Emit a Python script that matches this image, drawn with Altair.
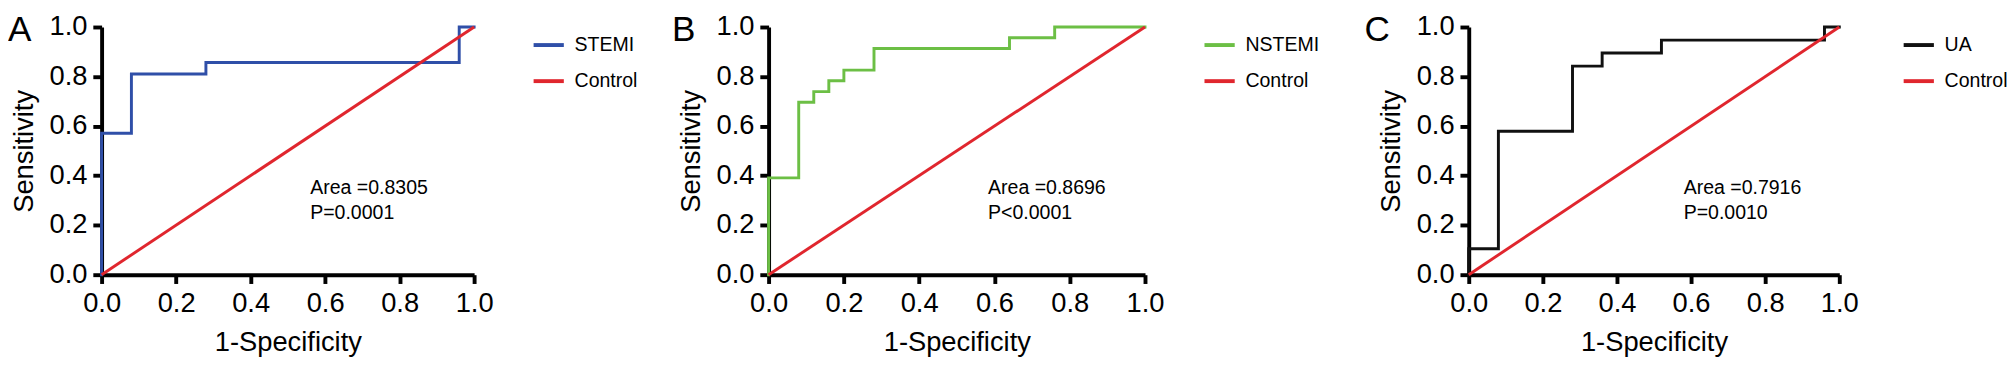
import altair as alt
import pandas as pd

FONT = "Liberation Sans"
RED = "#e0262e"

# ---- data ----
tick_values = [0.0, 0.2, 0.4, 0.6, 0.8, 1.0]

control_fpr = [0.0, 1.0]
control_tpr = [0.0, 1.0]

stemi_fpr = [0.0, 0.0, 0.08, 0.08, 0.28, 0.28, 0.96, 0.96, 1.0]
stemi_tpr = [0.0, 0.571, 0.571, 0.810, 0.810, 0.857, 0.857, 1.0, 1.0]

nstemi_fpr = [0.0, 0.0, 0.08, 0.08, 0.12, 0.12, 0.16, 0.16, 0.20, 0.20,
              0.28, 0.28, 0.64, 0.64, 0.76, 0.76, 1.0]
nstemi_tpr = [0.0, 0.391, 0.391, 0.696, 0.696, 0.739, 0.739, 0.783, 0.783, 0.826,
              0.826, 0.913, 0.913, 0.957, 0.957, 1.0, 1.0]

ua_fpr = [0.0, 0.0, 0.08, 0.08, 0.28, 0.28, 0.36, 0.36, 0.52, 0.52, 0.96, 0.96, 1.0]
ua_tpr = [0.0, 0.105, 0.105, 0.579, 0.579, 0.842, 0.842, 0.895, 0.895, 0.947, 0.947, 1.0, 1.0]

letters = ["A", "B", "C"]
series_names = ["STEMI", "NSTEMI", "UA"]
series_colors = ["#2f4fa8", "#6cbf45", "#111111"]
areas = ["Area =0.8305", "Area =0.8696", "Area =0.7916"]
pvalues = ["P=0.0001", "P<0.0001", "P=0.0010"]
note_x = [0.56, 0.583, 0.58]
note_y = [0.325, 0.325, 0.325]

# ---- layout (pixels) ----
plot_w = [382, 386, 380]
plot_h = 254
letter_dx = [-96, -99, -107]
legend_gap = [59, 59, 64]
legend_pad = [0, 11, 0]


def panel(i, fpr, tpr):
    name = series_names[i]
    curve = pd.DataFrame({"fpr": fpr, "tpr": tpr, "series": name,
                          "order": list(range(len(fpr)))})
    ctrl = pd.DataFrame({"fpr": control_fpr, "tpr": control_tpr, "series": "Control",
                         "order": list(range(len(control_fpr)))})
    w = plot_w[i]
    pad = legend_pad[i]
    color = alt.Color(
        "series:N",
        scale=alt.Scale(domain=[name, "Control"], range=[series_colors[i], RED]),
        legend=alt.Legend(
            title=None, orient="none",
            legendX=w + legend_gap[i] - pad, legendY=1 - pad, padding=pad,
            symbolType="stroke", symbolSize=961, symbolStrokeWidth=4,
            labelFontSize=20, labelFont=FONT, labelColor="black",
            labelOffset=9, rowPadding=9,
        ),
    )
    x = alt.X("fpr:Q", scale=alt.Scale(domain=[0, 1], nice=False, zero=False),
              axis=alt.Axis(values=tick_values, format=".1f", title="1-Specificity"))
    y = alt.Y("tpr:Q", scale=alt.Scale(domain=[0, 1], nice=False, zero=False),
              axis=alt.Axis(values=tick_values, format=".1f", title="Sensitivity"))

    base_line = alt.Chart(curve).mark_line(strokeWidth=3, strokeCap="square").encode(
        x=x, y=y, color=color, order="order:Q")
    ctrl_line = alt.Chart(ctrl).mark_line(strokeWidth=3).encode(
        x=x, y=y, color=color, order="order:Q")

    notes = pd.DataFrame({"fpr": [note_x[i]], "tpr": [note_y[i]],
                          "label": [areas[i] + "\n" + pvalues[i]]})
    note = alt.Chart(notes).mark_text(
        align="left", baseline="alphabetic", fontSize=20, font=FONT,
        color="black", lineBreak="\n", lineHeight=25,
    ).encode(x="fpr:Q", y="tpr:Q", text="label:N")

    let = alt.Chart(pd.DataFrame({"letter": [letters[i]]})).mark_text(
        align="left", baseline="alphabetic", fontSize=36, font=FONT, color="black",
    ).encode(text="letter:N", x=alt.value(letter_dx[i]), y=alt.value(14))

    return alt.layer(base_line, ctrl_line, note, let).properties(width=w, height=plot_h)


chart = alt.hconcat(
    panel(0, stemi_fpr, stemi_tpr),
    panel(1, nstemi_fpr, nstemi_tpr),
    panel(2, ua_fpr, ua_tpr),
    spacing=35,
).resolve_scale(color="independent").properties(
    padding={"left": 0, "top": 0, "right": 0, "bottom": 0}
).configure_view(stroke=None).configure_axis(
    grid=False, domainColor="black", domainWidth=4, tickColor="black", tickWidth=4,
    tickSize=9, labelFontSize=28, labelFont=FONT, labelColor="black",
    titleFontSize=28, titleFont=FONT, titleColor="black", titleFontWeight="normal",
    labelFlush=False, labelOverlap=False, zindex=0,
).configure_axisX(labelPadding=7, titlePadding=12).configure_axisY(
    labelPadding=6, titlePadding=11)

chart.save("out.html", embed_options={"renderer": "svg", "actions": False})
